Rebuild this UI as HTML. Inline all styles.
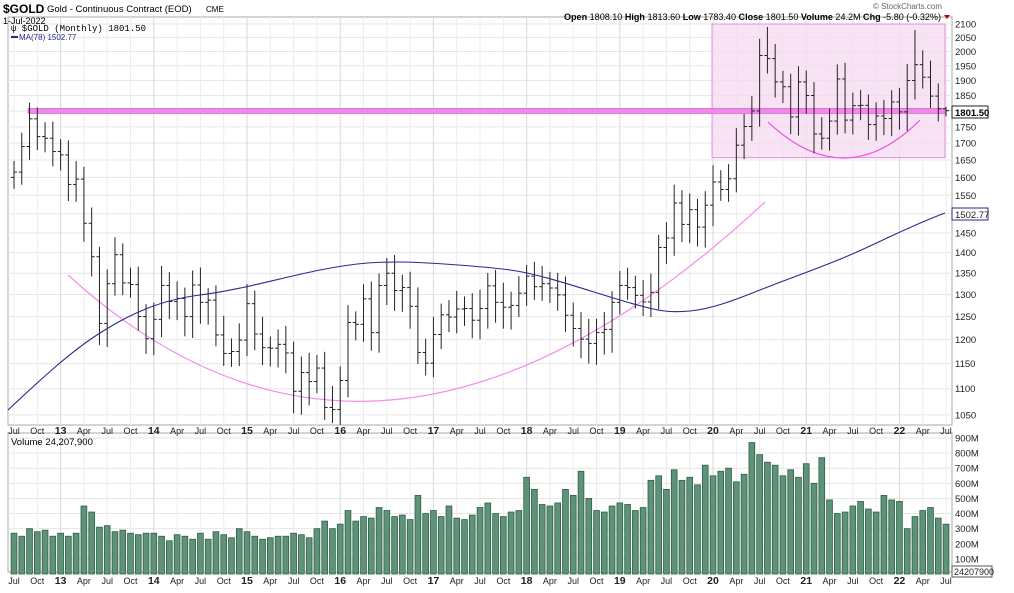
<!DOCTYPE html>
<html><head><meta charset="utf-8"><style>
body{margin:0;background:#fff;font-family:"Liberation Sans",sans-serif;}
svg text{font-family:"Liberation Sans",sans-serif;}
</style></head><body>
<svg id="s" width="1014" height="588" xmlns="http://www.w3.org/2000/svg"></svg>
<script>
const s=document.getElementById('s');let h='';
const X0=14,DX=7.767;const xm=i=>X0+i*DX;
const yp=p=>24+564*Math.log(2100/p);
const yv=v=>574-v*0.1511;
h+='<rect x="8" y="17" width="944" height="408" fill="#fff" stroke="#aaa" stroke-width="1"/>';
h+='<rect x="8" y="433" width="944" height="139" fill="#fff" stroke="#aaa" stroke-width="1"/>';
for(let p=1050;p<=2100;p+=50){const y=yp(p);h+=`<line x1="8" x2="952" y1="${y}" y2="${y}" stroke="#e6e6e6"/>`;h+=`<text x="955" y="${y+3.5}" font-size="9.5" fill="#222">${p}</text>`;}
for(let v=100;v<=900;v+=100){const y=yv(v);h+=`<line x1="8" x2="952" y1="${y}" y2="${y}" stroke="#e6e6e6"/>`;h+=`<text x="955" y="${y+3.5}" font-size="9.5" fill="#222">${v}M</text>`;}
for(let i=0;i<=120;i+=3){const m=(6+i)%12;const yr=2012+Math.floor((6+i)/12);let t,b=false;
 if(m==0){t=String(yr%100);b=true}else t=m==3?'Apr':m==6?'Jul':'Oct';
 const x=xm(i);h+=`<line x1="${x}" x2="${x}" y1="17" y2="425" stroke="${b?'#d8d8d8':'#ececec'}"/><line x1="${x}" x2="${x}" y1="433" y2="572" stroke="${b?'#d8d8d8':'#ececec'}"/>`;
 const st=b?'font-weight="bold" font-size="10.5"':'font-size="9"';
 h+=`<text x="${x}" y="434" text-anchor="middle" ${st} fill="#222">${t}</text><text x="${x}" y="584" text-anchor="middle" ${st} fill="#222">${t}</text>`;}
h+=`<rect x="712" y="24" width="233" height="${yp(1657)-24}" fill="#f5d9f2" fill-opacity="0.75" stroke="#e58fe0"/>`;
h+=`<rect x="28" y="${yp(1800)-2.5}" width="917" height="5" fill="#f08ae8" stroke="#d050c8" stroke-width="0.6"/>`;
h+='<path d="M68,275 Q380,560 765,202" fill="none" stroke="#f28fe8" stroke-width="1.2"/>';
h+='<path d="M768,122 Q845,195 920,120" fill="none" stroke="#f050e0" stroke-width="1.2"/>';
const C=[1615,1690,1775,1720,1715,1675,1665,1580,1595,1475,1390,1235,1325,1395,1327,1323,1250,1202,1244,1321,1284,1291,1250,1322,1282,1287,1210,1171,1175,1199,1279,1212,1183,1182,1190,1172,1095,1132,1114,1141,1064,1060,1116,1237,1233,1290,1215,1321,1350,1309,1316,1273,1173,1151,1211,1254,1249,1267,1268,1242,1268,1320,1282,1271,1275,1303,1343,1318,1325,1315,1299,1253,1224,1201,1192,1215,1222,1282,1321,1316,1298,1283,1305,1413,1437,1529,1472,1511,1465,1523,1587,1566,1596,1694,1751,1800,1986,1975,1895,1879,1781,1895,1850,1728,1715,1768,1905,1771,1817,1818,1757,1784,1776,1829,1797,1900,1954,1911,1848,1807,1801];
const V=[270,250,300,280,290,250,270,250,270,450,410,310,320,280,290,270,260,270,270,250,220,260,250,230,270,230,280,260,240,300,280,250,230,240,250,250,270,260,240,300,350,300,330,420,350,380,370,440,420,380,390,360,520,400,420,380,450,370,360,390,440,470,400,380,410,420,640,560,460,450,470,560,520,680,500,420,410,450,470,460,420,440,620,650,560,690,620,640,590,720,650,680,700,610,660,870,790,740,720,650,690,640,730,600,770,490,400,410,450,480,430,410,520,490,480,300,380,420,440,370,330,20];
for(let i=0;i<C.length;i++){const c=C[i],o=i?C[i-1]:1600,x=xm(i);
 let hi=Math.max(o,c)+c*0.02+ (i*37%11)*2,lo=Math.min(o,c)-c*0.02-(i*53%13)*2;
 if(i==97)hi=2089;if(i==116)hi=2078;if(i==120){hi=1813;lo=1783;}
 h+=`<line x1="${x}" x2="${x}" y1="${yp(hi)}" y2="${yp(lo)}" stroke="#222"/><line x1="${x-3}" x2="${x}" y1="${yp(o)}" y2="${yp(o)}" stroke="#222"/><line x1="${x}" x2="${x+3}" y1="${yp(c)}" y2="${yp(c)}" stroke="#222"/>`;
 const v=V[i]||300;h+=`<rect x="${x-2.9}" y="${yv(v)}" width="5.8" height="${574-yv(v)}" fill="#5e937a" stroke="#2f5f45" stroke-width="0.8"/>`;}
h+='<path d="M8,410 C40,380 70,352 100,333 S160,300 200,295 S280,278 320,270 S380,262 400,262 S480,266 510,270 S580,288 620,300 S670,313 690,311 S730,302 760,290 S820,268 850,255 S910,226 945,213" fill="none" stroke="#2a2a8a" stroke-width="1.1"/>';
h+='<rect x="952" y="106" width="36" height="12" fill="#fff" stroke="#222"/><text x="955" y="116" font-size="9.5" font-weight="bold">1801.50</text>';
h+='<rect x="952" y="208" width="36" height="12" fill="#fff" stroke="#2a2a8a"/><text x="955" y="218" font-size="9.5" fill="#222">1502.77</text>';
h+='<rect x="952" y="566" width="40" height="11" fill="#fff" stroke="#555"/><text x="954" y="575" font-size="9" fill="#222">24207900</text>';
h+='<text x="3" y="13" font-size="12" font-weight="bold">$GOLD</text><text x="47" y="12" font-size="9.5">Gold - Continuous Contract (EOD)</text><text x="206" y="12" font-size="8">CME</text>';
h+='<text x="3" y="24" font-size="9">1-Jul-2022</text>';
h+='<text x="11" y="31" font-size="9" style="font-family:\'Liberation Mono\',monospace">ψ $GOLD (Monthly) 1801.50</text>';
h+='<line x1="11" x2="18" y1="37" y2="37" stroke="#2a2a8a" stroke-width="2"/><text x="19" y="40" font-size="8" fill="#2a2a8a">MA(78) 1502.77</text>';
h+='<text x="942" y="9" font-size="8" fill="#666" text-anchor="end">© StockCharts.com</text>';
h+='<text x="564" y="20" font-size="9" textLength="377" lengthAdjust="spacingAndGlyphs"><tspan font-weight="bold">Open</tspan> 1808.10 <tspan font-weight="bold">High</tspan> 1813.60 <tspan font-weight="bold">Low</tspan> 1783.40 <tspan font-weight="bold">Close</tspan> 1801.50 <tspan font-weight="bold">Volume</tspan> 24.2M <tspan font-weight="bold">Chg</tspan> -5.80 (-0.32%)</text><path d="M944,15 l6,0 l-3,4z" fill="#c00"/>';
h+='<text x="11" y="445" font-size="9.5">Volume 24,207,900</text>';
s.innerHTML=h;
</script>
</body></html>
